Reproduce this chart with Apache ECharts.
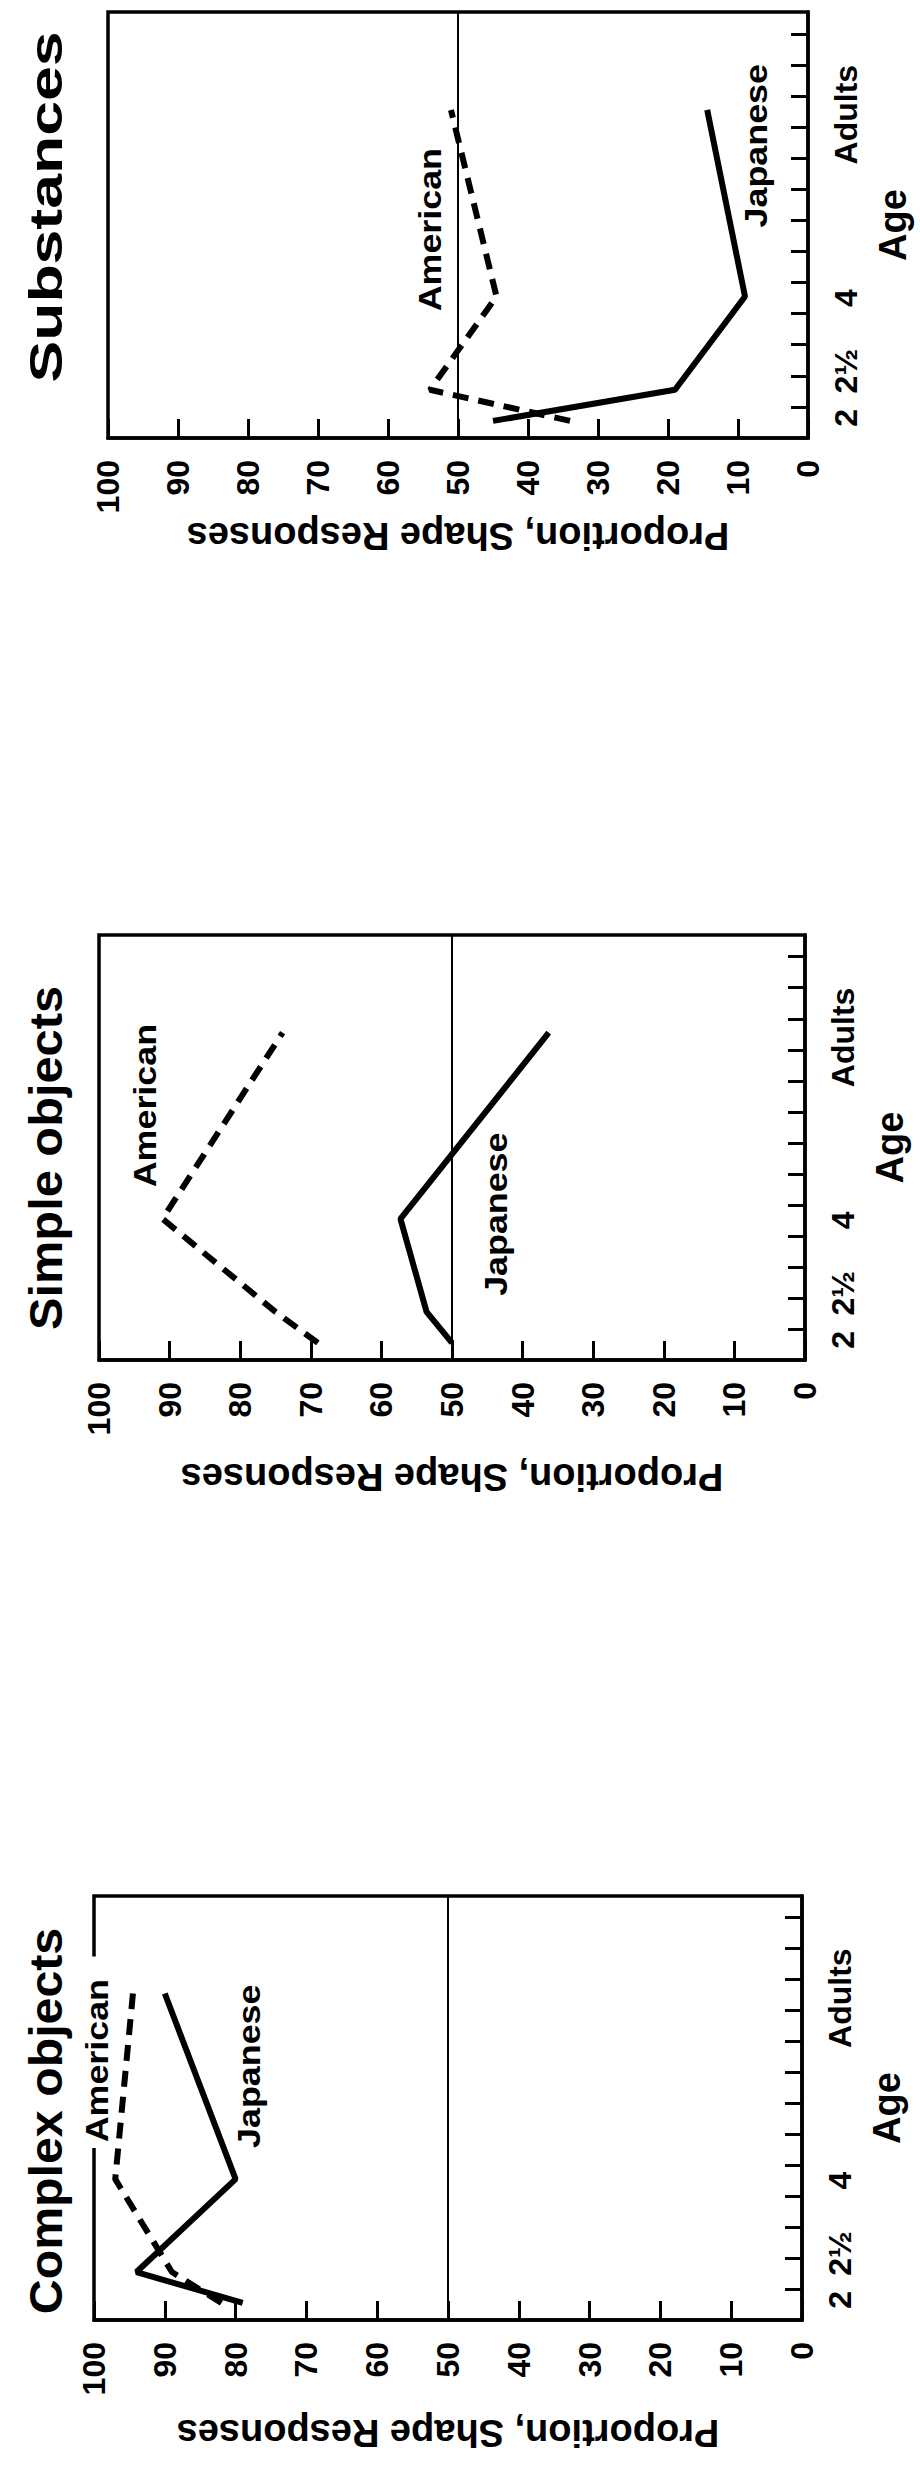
<!DOCTYPE html>
<html>
<head>
<meta charset="utf-8">
<script src="https://cdn.jsdelivr.net/npm/echarts@6/dist/echarts.min.js"></script>
<style>
html,body{margin:0;padding:0;background:#fff;}
#c{width:920px;height:2466px;}
</style>
</head>
<body>
<div id="c"></div>
<script>
// ---------- DATA ----------
const panelTitles = ['Substances', 'Simple objects', 'Complex objects'];
const ageLabels = ['2', '2½', '4', 'Adults'];
const ageLabelPos = [0.65, 2.15, 4.5, 10.4];
const agePos = [0.55, 1.55, 4.55, 10.55];
const ageTickPos = [1, 2, 3, 4, 5, 6, 7, 8, 9, 10, 11, 12, 13];
const seriesNames = ['American', 'Japanese'];

const substancesAmerican = [34, 54, 44.5, 51];
const substancesJapanese = [45, 19, 9, 14.4];
const simpleAmerican = [69, 75, 91, 74];
const simpleJapanese = [50, 53.6, 57.3, 36.3];
const complexAmerican = [82, 89, 97, 94.5];
const complexJapanese = [79, 94, 80, 90];

const panelAmerican = [substancesAmerican, simpleAmerican, complexAmerican];
const panelJapanese = [substancesJapanese, simpleJapanese, complexJapanese];

// ---------- LAYOUT / STYLE ----------
const FONT = '"Liberation Sans", Arial, Helvetica, sans-serif';
const layout = [
  { grid: { left: 108, top: 12, width: 705, height: 426 }, title: { x: 46, y: 207, sx: 1.36 }, nameGap: 70,
    ann: { American: [54.0, 6.7], Japanese: [7.5, 9.4] } },
  { grid: { left: 99, top: 935, width: 706, height: 425 }, title: { x: 46, y: 1158, sx: 1.06 }, nameGap: 98,
    ann: { American: [93.5, 8.2], Japanese: [43.8, 4.7] } },
  { grid: { left: 94, top: 1896, width: 708, height: 424 }, title: { x: 46, y: 2121, sx: 1.05 }, nameGap: 94,
    ann: { American: [99.6, 8.65], Japanese: [78.2, 8.2] }, whiteBg: 'American' }
];

const grids = [], xAxes = [], yAxes = [], series = [];
layout.forEach((L, i) => {
  grids.push(Object.assign({ show: true, borderColor: '#000', borderWidth: 3.5, backgroundColor: 'transparent' }, L.grid));
  xAxes.push({
    gridIndex: i, type: 'value', min: 0, max: 100, interval: 10, inverse: true, position: 'bottom',
    axisLine: { show: true, lineStyle: { color: '#000', width: 3.5 } },
    axisTick: { show: true, inside: true, length: 19, lineStyle: { color: '#000', width: 3 } },
    axisLabel: { rotate: 90, margin: 22, fontSize: 32, fontWeight: 'bold', fontFamily: FONT, color: '#000' },
    splitLine: { show: false },
    name: 'Proportion, Shape Responses', nameLocation: 'middle', nameRotate: 180, nameGap: L.nameGap,
    nameTextStyle: { fontSize: 38, fontWeight: 'bold', fontFamily: FONT, color: '#000' }
  });
  yAxes.push({
    gridIndex: i, type: 'value', min: 0, max: 13.7, position: 'right',
    axisLine: { show: true, lineStyle: { color: '#000', width: 3.5 } },
    axisTick: { show: true, inside: true, length: 17, customValues: ageTickPos, lineStyle: { color: '#000', width: 3 } },
    axisLabel: {
      customValues: ageLabelPos,
      formatter: v => { const k = ageLabelPos.findIndex(p => Math.abs(p - v) < 1e-6); return k >= 0 ? ageLabels[k] : ''; },
      rotate: 90, margin: 22, fontSize: 32, fontWeight: 'bold', fontFamily: FONT, color: '#000'
    },
    splitLine: { show: false },
    name: 'Age', nameLocation: 'middle', nameGap: 66,
    nameTextStyle: { fontSize: 38, fontWeight: 'bold', fontFamily: FONT, color: '#000' }
  });
  series.push({
    name: seriesNames[0], type: 'line', xAxisIndex: i, yAxisIndex: i,
    data: agePos.map((a, k) => [panelAmerican[i][k], a]),
    symbol: 'none', showSymbol: false, z: 3,
    lineStyle: { color: '#000', width: 6, type: [16, 10] }
  });
  series.push({
    name: seriesNames[1], type: 'line', xAxisIndex: i, yAxisIndex: i,
    data: agePos.map((a, k) => [panelJapanese[i][k], a]),
    symbol: 'none', showSymbol: false, z: 3,
    lineStyle: { color: '#000', width: 6, type: 'solid' },
    markLine: {
      silent: true, symbol: ['none', 'none'], label: { show: false },
      lineStyle: { color: '#000', width: 2, type: 'solid' },
      data: [{ xAxis: 50 }]
    }
  });
});

const chart = echarts.init(document.getElementById('c'), null, { renderer: 'svg' });
chart.setOption({
  animation: false,
  backgroundColor: '#fff',
  grid: grids, xAxis: xAxes, yAxis: yAxes, series: series
});

// titles and line annotations (annotations anchored through the chart scales)
const graphics = [];
layout.forEach((L, i) => {
  graphics.push({
    type: 'text', x: L.title.x, y: L.title.y, rotation: Math.PI / 2, scaleX: L.title.sx, z: 5,
    style: { text: panelTitles[i], font: 'bold 46px ' + FONT, fill: '#000',
      align: 'center', verticalAlign: 'middle', textAlign: 'center', textVerticalAlign: 'middle' }
  });
  seriesNames.forEach(nm => {
    const p = chart.convertToPixel({ gridIndex: i }, L.ann[nm]);
    const st = { text: nm, font: 'bold 32px ' + FONT, fill: '#000',
      align: 'center', verticalAlign: 'middle', textAlign: 'center', textVerticalAlign: 'middle' };
    if (L.whiteBg === nm) { st.backgroundColor = '#fff'; st.padding = [0, 20, 0, 5]; st.lineHeight = 28; }
    graphics.push({ type: 'text', x: p[0], y: p[1], rotation: Math.PI / 2, scaleX: 1.12, z: 1, style: st });
  });
});
chart.setOption({ graphic: graphics });
</script>
</body>
</html>
